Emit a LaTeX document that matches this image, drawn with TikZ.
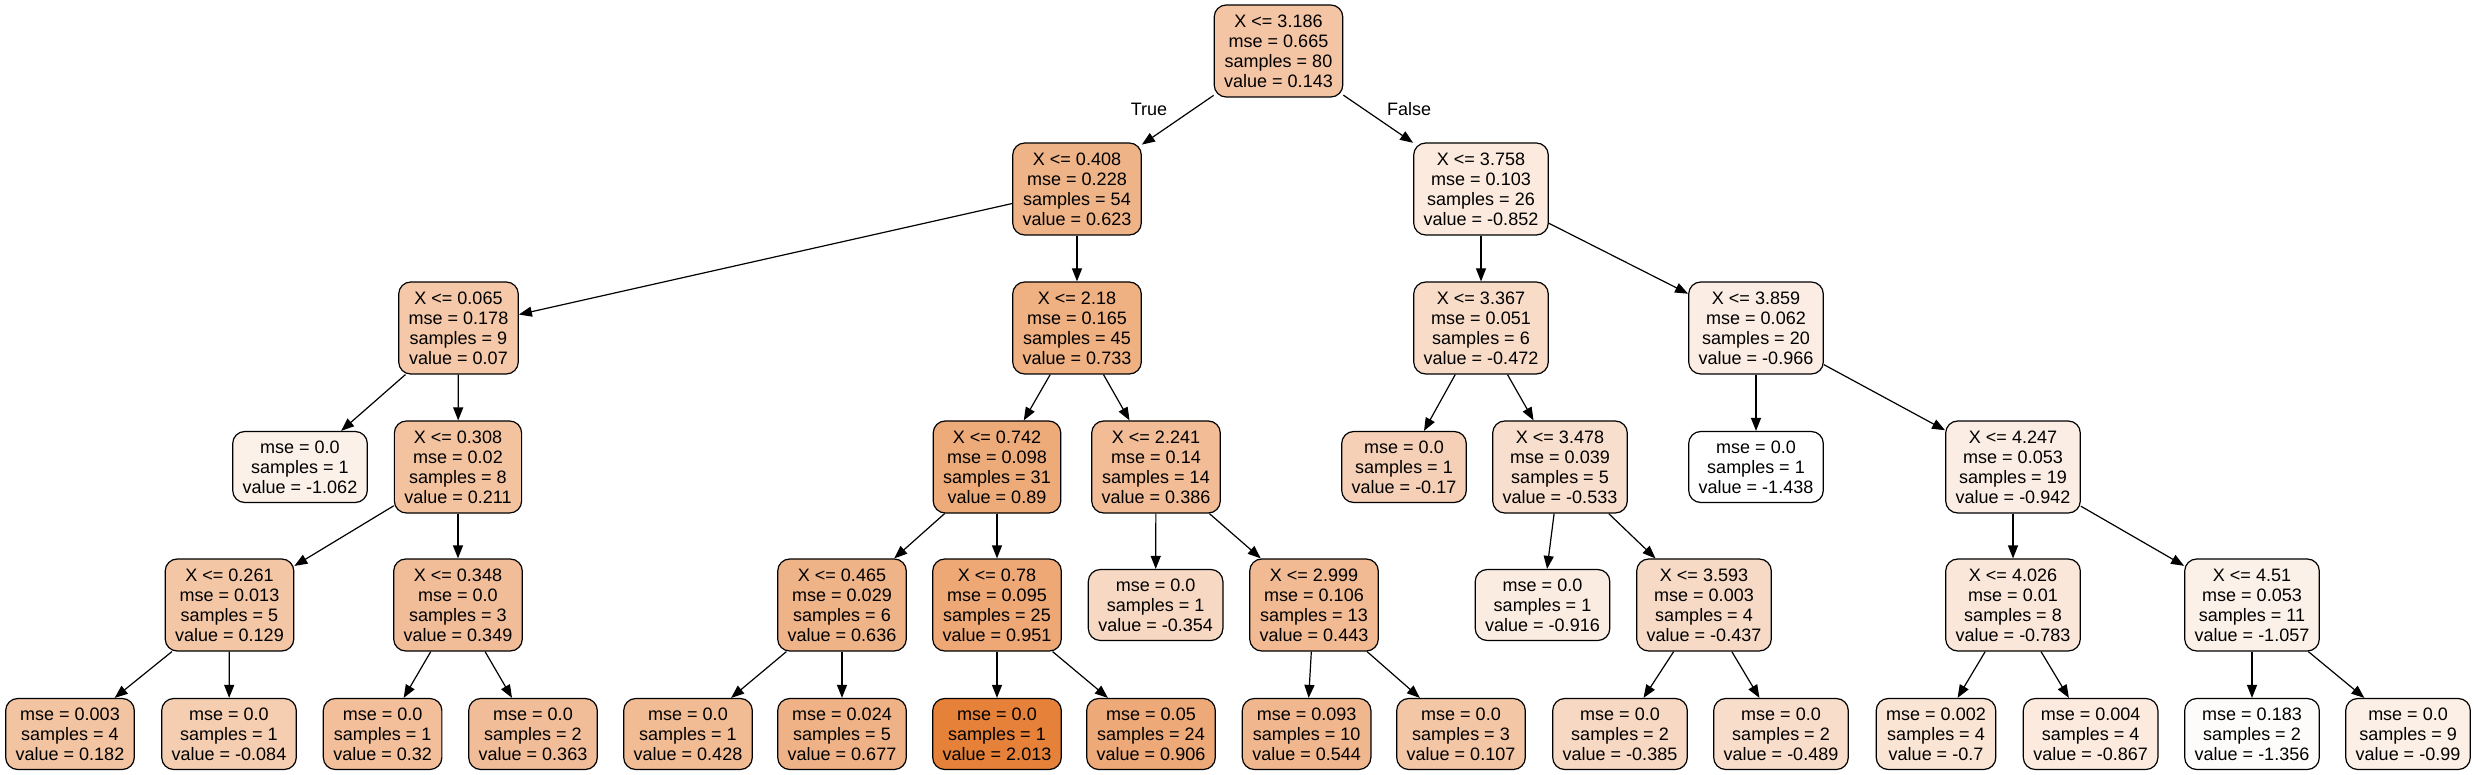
\documentclass[tikz,border=0pt]{standalone}
\usepackage{fontspec}
\setmainfont{Liberation Sans}
\definecolor{treeorange}{RGB}{229,129,57}
\usetikzlibrary{arrows.meta}

\begin{document}
\begin{tikzpicture}[
        x=1pt, y=-1pt,
        split/.style={rectangle, draw=black, line width=1.2pt, rounded corners=12pt, align=center, inner xsep=10pt, inner ysep=0pt, minimum height=92pt, font={\fontsize{18pt}{20pt}\selectfont}},
        leaf/.style={split, minimum height=71pt},
        lbl/.style={font={\fontsize{18pt}{20pt}\selectfont}, inner sep=0pt},
        arrow/.style={-{Triangle[length=13pt, width=10pt]}, line width=1.2pt, black}
    ]
        \useasboundingbox (0,0) rectangle (2477,775);

        % Root and first split
        \node[split, fill=treeorange!46!white] (X3186) at (1278.5,51) {X <= 3.186\\mse = 0.665\\samples = 80\\value = 0.143};
        \node[split, fill=treeorange!60!white] (X0408) at (1077,189) {X <= 0.408\\mse = 0.228\\samples = 54\\value = 0.623};
        \node[split, fill=treeorange!17!white] (X3758) at (1481,189) {X <= 3.758\\mse = 0.103\\samples = 26\\value = -0.852};

        % Depth 2
        \node[split, fill=treeorange!44!white] (X0065) at (458.5,328) {X <= 0.065\\mse = 0.178\\samples = 9\\value = 0.07};
        \node[split, fill=treeorange!63!white] (X218) at (1077,328) {X <= 2.18\\mse = 0.165\\samples = 45\\value = 0.733};
        \node[split, fill=treeorange!28!white] (X3367) at (1481,328) {X <= 3.367\\mse = 0.051\\samples = 6\\value = -0.472};
        \node[split, fill=treeorange!14!white] (X3859) at (1756,328) {X <= 3.859\\mse = 0.062\\samples = 20\\value = -0.966};

        % Depth 3
        \node[leaf, fill=treeorange!11!white] (Vm1062) at (300,467) {mse = 0.0\\samples = 1\\value = -1.062};
        \node[split, fill=treeorange!48!white] (X0308) at (458,467) {X <= 0.308\\mse = 0.02\\samples = 8\\value = 0.211};
        \node[split, fill=treeorange!67!white] (X0742) at (997,467) {X <= 0.742\\mse = 0.098\\samples = 31\\value = 0.89};
        \node[split, fill=treeorange!53!white] (X2241) at (1156,467) {X <= 2.241\\mse = 0.14\\samples = 14\\value = 0.386};
        \node[leaf, fill=treeorange!37!white] (Vm017) at (1404,467) {mse = 0.0\\samples = 1\\value = -0.17};
        \node[split, fill=treeorange!26!white] (X3478) at (1560,467) {X <= 3.478\\mse = 0.039\\samples = 5\\value = -0.533};
        \node[leaf, fill=white] (Vm1438) at (1756,467) {mse = 0.0\\samples = 1\\value = -1.438};
        \node[split, fill=treeorange!14!white] (X4247) at (2013,467) {X <= 4.247\\mse = 0.053\\samples = 19\\value = -0.942};

        % Depth 4
        \node[split, fill=treeorange!45!white] (X0261) at (229.5,605) {X <= 0.261\\mse = 0.013\\samples = 5\\value = 0.129};
        \node[split, fill=treeorange!52!white] (X0348) at (458,605) {X <= 0.348\\mse = 0.0\\samples = 3\\value = 0.349};
        \node[split, fill=treeorange!60!white] (X0465) at (842,605) {X <= 0.465\\mse = 0.029\\samples = 6\\value = 0.636};
        \node[split, fill=treeorange!69!white] (X078) at (997,605) {X <= 0.78\\mse = 0.095\\samples = 25\\value = 0.951};
        \node[leaf, fill=treeorange!31!white] (Vm0354) at (1155.6,605) {mse = 0.0\\samples = 1\\value = -0.354};
        \node[split, fill=treeorange!55!white] (X2999) at (1314,605) {X <= 2.999\\mse = 0.106\\samples = 13\\value = 0.443};
        \node[leaf, fill=treeorange!15!white] (Vm0916) at (1542.5,605) {mse = 0.0\\samples = 1\\value = -0.916};
        \node[split, fill=treeorange!29!white] (X3593) at (1704,605) {X <= 3.593\\mse = 0.003\\samples = 4\\value = -0.437};
        \node[split, fill=treeorange!19!white] (X4026) at (2013,605) {X <= 4.026\\mse = 0.01\\samples = 8\\value = -0.783};
        \node[split, fill=treeorange!11!white] (X451) at (2252,605) {X <= 4.51\\mse = 0.053\\samples = 11\\value = -1.057};

        % Depth 5 (leaves)
        \node[leaf, fill=treeorange!47!white] (V0182) at (70,734) {mse = 0.003\\samples = 4\\value = 0.182};
        \node[leaf, fill=treeorange!39!white] (Vm0084) at (229,734) {mse = 0.0\\samples = 1\\value = -0.084};
        \node[leaf, fill=treeorange!51!white] (V032) at (382.6,734) {mse = 0.0\\samples = 1\\value = 0.32};
        \node[leaf, fill=treeorange!52!white] (V0363) at (533,734) {mse = 0.0\\samples = 2\\value = 0.363};
        \node[leaf, fill=treeorange!54!white] (V0428) at (688,734) {mse = 0.0\\samples = 1\\value = 0.428};
        \node[leaf, fill=treeorange!61!white] (V0677) at (842,734) {mse = 0.024\\samples = 5\\value = 0.677};
        \node[leaf, fill=treeorange] (V2013) at (997,734) {mse = 0.0\\samples = 1\\value = 2.013};
        \node[leaf, fill=treeorange!68!white] (V0906) at (1151,734) {mse = 0.05\\samples = 24\\value = 0.906};
        \node[leaf, fill=treeorange!57!white] (V0544) at (1306.6,734) {mse = 0.093\\samples = 10\\value = 0.544};
        \node[leaf, fill=treeorange!45!white] (V0107) at (1461,734) {mse = 0.0\\samples = 3\\value = 0.107};
        \node[leaf, fill=treeorange!31!white] (Vm0385) at (1620,734) {mse = 0.0\\samples = 2\\value = -0.385};
        \node[leaf, fill=treeorange!27!white] (Vm0489) at (1781,734) {mse = 0.0\\samples = 2\\value = -0.489};
        \node[leaf, fill=treeorange!21!white] (Vm07) at (1936,734) {mse = 0.002\\samples = 4\\value = -0.7};
        \node[leaf, fill=treeorange!17!white] (Vm0867) at (2090.6,734) {mse = 0.004\\samples = 4\\value = -0.867};
        \node[leaf, fill=treeorange!2!white] (Vm1356) at (2252,734) {mse = 0.183\\samples = 2\\value = -1.356};
        \node[leaf, fill=treeorange!13!white] (Vm099) at (2408,734) {mse = 0.0\\samples = 9\\value = -0.99};

        % Branch labels
        \node[lbl] (TRUE) at (1149,109) {True};
        \node[lbl] (FALSE) at (1409,109) {False};

        % Edges
        \draw[arrow] (X3186) -- (X0408);
        \draw[arrow] (X3186) -- (X3758);
        \draw[arrow] (X0408) -- (X0065);
        \draw[arrow] (X0408) -- (X218);
        \draw[arrow] (X3758) -- (X3367);
        \draw[arrow] (X3758) -- (X3859);
        \draw[arrow] (X0065) -- (Vm1062);
        \draw[arrow] (X0065) -- (X0308);
        \draw[arrow] (X218) -- (X0742);
        \draw[arrow] (X218) -- (X2241);
        \draw[arrow] (X3367) -- (Vm017);
        \draw[arrow] (X3367) -- (X3478);
        \draw[arrow] (X3859) -- (Vm1438);
        \draw[arrow] (X3859) -- (X4247);
        \draw[arrow] (X0308) -- (X0261);
        \draw[arrow] (X0308) -- (X0348);
        \draw[arrow] (X0742) -- (X0465);
        \draw[arrow] (X0742) -- (X078);
        \draw[arrow] (X2241) -- (Vm0354);
        \draw[arrow] (X2241) -- (X2999);
        \draw[arrow] (X3478) -- (Vm0916);
        \draw[arrow] (X3478) -- (X3593);
        \draw[arrow] (X4247) -- (X4026);
        \draw[arrow] (X4247) -- (X451);
        \draw[arrow] (X0261) -- (V0182);
        \draw[arrow] (X0261) -- (Vm0084);
        \draw[arrow] (X0348) -- (V032);
        \draw[arrow] (X0348) -- (V0363);
        \draw[arrow] (X0465) -- (V0428);
        \draw[arrow] (X0465) -- (V0677);
        \draw[arrow] (X078) -- (V2013);
        \draw[arrow] (X078) -- (V0906);
        \draw[arrow] (X2999) -- (V0544);
        \draw[arrow] (X2999) -- (V0107);
        \draw[arrow] (X3593) -- (Vm0385);
        \draw[arrow] (X3593) -- (Vm0489);
        \draw[arrow] (X4026) -- (Vm07);
        \draw[arrow] (X4026) -- (Vm0867);
        \draw[arrow] (X451) -- (Vm1356);
        \draw[arrow] (X451) -- (Vm099);
    \end{tikzpicture}
\end{document}
